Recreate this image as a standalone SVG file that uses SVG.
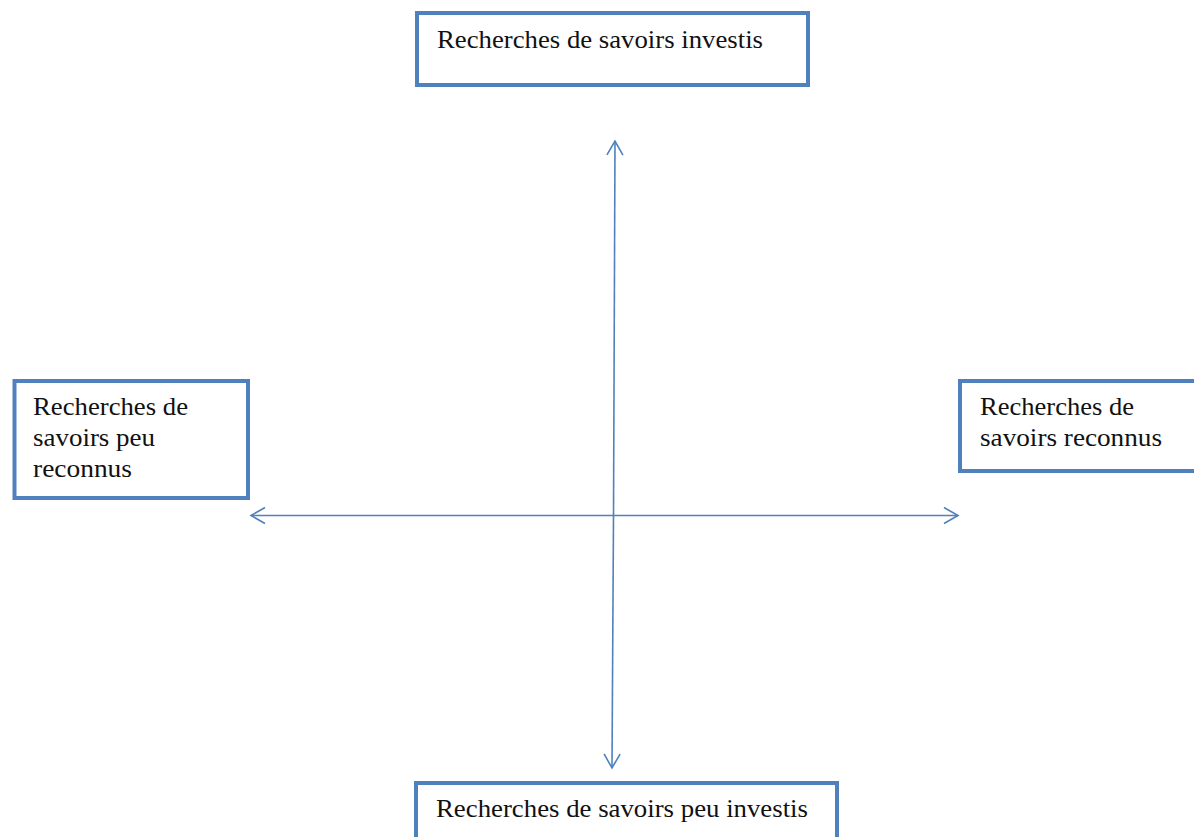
<svg xmlns="http://www.w3.org/2000/svg" width="1194" height="837" viewBox="0 0 1194 837">
<defs>
<style>
.box{fill:#ffffff;stroke:#4F81BD;stroke-width:4}
.lbl{font-family:"Liberation Serif","Times New Roman",serif;font-size:25px;fill:#111111}
.conn{stroke:#4F81BD;stroke-width:1.6;fill:none;marker-end:url(#arr)}
</style>
<marker id="arr" markerUnits="userSpaceOnUse" markerWidth="30" markerHeight="30" viewBox="-20 -15 30 30" refX="0" refY="0" orient="auto">
<path d="M-14,-8 L0,0 L-14,8" fill="none" stroke="#4F81BD" stroke-width="1.6"/>
</marker>
</defs>
<rect width="1194" height="837" fill="#ffffff"/>
<g id="connectors">
<line class="conn" x1="613.5" y1="516" x2="615" y2="141"/>
<line class="conn" x1="613.5" y1="516" x2="612" y2="768"/>
<line class="conn" x1="613" y1="515.5" x2="251" y2="515.5"/>
<line class="conn" x1="613" y1="515.5" x2="958" y2="515.5"/>
</g>
<g id="node-top">
<rect class="box" x="417" y="13" width="391" height="72"/>
<text class="lbl" x="437" y="47.5" textLength="326" lengthAdjust="spacingAndGlyphs">Recherches de savoirs investis</text>
</g>
<g id="node-left">
<rect class="box" x="14.5" y="381" width="233.5" height="117"/>
<text class="lbl" x="33" y="415" textLength="155" lengthAdjust="spacingAndGlyphs">Recherches de</text>
<text class="lbl" x="33" y="446" textLength="122" lengthAdjust="spacingAndGlyphs">savoirs peu</text>
<text class="lbl" x="33" y="477" textLength="99" lengthAdjust="spacingAndGlyphs">reconnus</text>
</g>
<g id="node-right">
<rect class="box" x="960" y="381" width="260" height="90"/>
<text class="lbl" x="980" y="415" textLength="154" lengthAdjust="spacingAndGlyphs">Recherches de</text>
<text class="lbl" x="980" y="446" textLength="182" lengthAdjust="spacingAndGlyphs">savoirs reconnus</text>
</g>
<g id="node-bottom">
<rect class="box" x="416" y="783" width="421" height="80"/>
<text class="lbl" x="436" y="817" textLength="372" lengthAdjust="spacingAndGlyphs">Recherches de savoirs peu investis</text>
</g>
</svg>
